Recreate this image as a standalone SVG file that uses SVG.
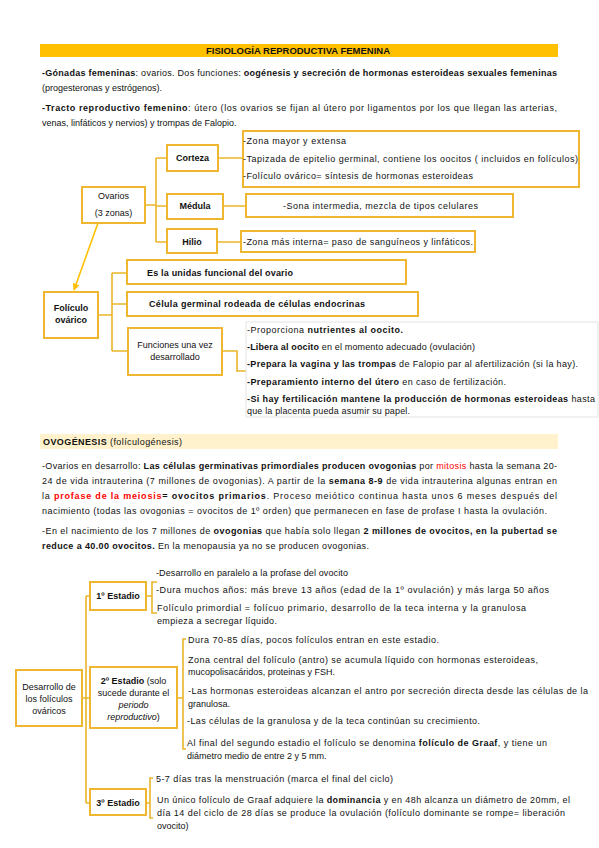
<svg xmlns="http://www.w3.org/2000/svg" width="599" height="848" viewBox="0 0 599 848">
<style>
text{font-family:"Liberation Sans",Arial,sans-serif;font-size:9px;fill:#111}
.b{font-weight:bold}
.i{font-style:italic}
.r{fill:#ff0000}
.c{text-anchor:middle}
.box{fill:#fff;stroke:#efb730;stroke-width:2}
.faint{fill:#fff;stroke:#e4e4e4;stroke-width:1}
.ln{fill:none;stroke:#e9b52a;stroke-width:1.6}
</style>
<defs>
<marker id="ah" viewBox="0 0 10 10" refX="9" refY="5" markerWidth="7" markerHeight="7" orient="auto-start-reverse" markerUnits="userSpaceOnUse">
<path d="M0,0 L10,5 L0,10 z" fill="#ffc000"/>
</marker>
</defs>
<rect width="599" height="848" fill="#fff"/>

<!-- Header -->
<g id="title">
<rect x="40" y="44" width="518" height="13" fill="#ffc000"/>
<text class="b c" x="298" y="54" textLength="184" lengthAdjust="spacingAndGlyphs">FISIOLOGÍA REPRODUCTIVA FEMENINA</text>
</g>
<g id="intro">
<text x="42" y="76" textLength="515" lengthAdjust="spacing"><tspan class="b">-Gónadas femeninas</tspan>: ovarios. Dos funciones: <tspan class="b">oogénesis y secreción de hormonas esteroideas sexuales femeninas</tspan></text>
<text x="42" y="91">(progesteronas y estrógenos).</text>
<text x="42" y="111" textLength="515" lengthAdjust="spacing"><tspan class="b">-Tracto reproductivo femenino</tspan>: útero (los ovarios se fijan al útero por ligamentos por los que llegan las arterias,</text>
<text x="42" y="126">venas, linfáticos y nervios) y trompas de Falopio.</text>
</g>

<!-- Connectors -->
<g id="connectors">
<path class="ln" d="M145,205 H156 M156,158 V242 M156,158 H167 M156,206 H167 M156,242 H167"/>
<path class="ln" d="M218,158 H243 M223,206 H246 M217,242 H241"/>
<path d="M98,223 L74,290" stroke="#ffc000" stroke-width="1.6" fill="none" marker-end="url(#ah)"/>
<path class="ln" d="M98,315 H112 M112,273 V351 M112,273 H127 M112,304 H127 M112,351 H128"/>
<path class="ln" d="M222,351 H237 V371 H250"/>
<path class="ln" d="M82,698 H86 M86,596 V803 M86,596 H90 M86,698 H90 M86,803 H90"/>
<path class="ln" d="M146,596 H152 M157,582 H152 V613 H157"/>
<path class="ln" d="M177,698 H183 M186,639 H183 V749 H186"/>
<path class="ln" d="M146,803 H150 M153,778 H150 V818 H153"/>
</g>

<!-- Ovarios tree -->
<g id="ovarios">
<rect class="box" x="82" y="187" width="63" height="36"/>
<text class="c" x="113.5" y="199">Ovarios</text>
<text class="c" x="113.5" y="216">(3 zonas)</text>
</g>
<g id="corteza">
<rect class="box" x="167" y="145" width="51" height="26"/>
<text class="b c" x="192.5" y="161">Corteza</text>
</g>
<g id="corteza-desc">
<rect class="box" x="243" y="131" width="336" height="56"/>
<text x="243" y="144" textLength="103" lengthAdjust="spacing">-Zona mayor y extensa</text>
<text x="243" y="161.5" textLength="335" lengthAdjust="spacing">-Tapizada de epitelio germinal, contiene los oocitos ( incluidos en folículos)</text>
<text x="243" y="179" textLength="230" lengthAdjust="spacing">-Folículo ovárico= síntesis de hormonas esteroideas</text>
</g>
<g id="medula">
<rect class="box" x="167" y="194" width="56" height="25"/>
<text class="b c" x="195" y="209">Médula</text>
</g>
<g id="medula-desc">
<rect class="box" x="246" y="194" width="267" height="23"/>
<text x="283" y="209" textLength="195" lengthAdjust="spacing">-Sona intermedia, mezcla de tipos celulares</text>
</g>
<g id="hilio">
<rect class="box" x="167" y="229" width="50" height="24"/>
<text class="b c" x="192" y="245">Hilio</text>
</g>
<g id="hilio-desc">
<rect class="box" x="241" y="231" width="234" height="21"/>
<text x="243" y="245" textLength="230" lengthAdjust="spacing">-Zona más interna= paso de sanguíneos y linfáticos.</text>
</g>

<!-- Foliculo tree -->
<g id="foliculo">
<rect class="box" x="44" y="292" width="54" height="46"/>
<text class="b c" x="71" y="311">Folículo</text>
<text class="b c" x="71" y="323">ovárico</text>
</g>
<g id="unidad">
<rect class="box" x="127" y="260" width="279" height="24"/>
<text class="b" x="147" y="276" textLength="146" lengthAdjust="spacing">Es la unidas funcional del ovario</text>
</g>
<g id="celula">
<rect class="box" x="127" y="292" width="291" height="24"/>
<text class="b" x="149" y="307" textLength="216" lengthAdjust="spacing">Célula germinal rodeada de células endocrinas</text>
</g>
<g id="funciones">
<rect class="box" x="128" y="328" width="94" height="47"/>
<text class="c" x="175" y="348">Funciones una vez</text>
<text class="c" x="175" y="360">desarrollado</text>
</g>
<g id="funciones-desc">
<rect class="faint" x="246" y="322" width="352" height="95"/>
<text x="247" y="333" textLength="156" lengthAdjust="spacing">-Proporciona <tspan class="b">nutrientes al oocito.</tspan></text>
<text x="247" y="350" textLength="228" lengthAdjust="spacing"><tspan class="b">-Libera al oocito</tspan> en el momento adecuado (ovulación)</text>
<text x="247" y="367" textLength="331" lengthAdjust="spacing"><tspan class="b">-Prepara la vagina y las trompas</tspan> de Falopio par al afertilización (si la hay).</text>
<text x="247" y="385" textLength="259" lengthAdjust="spacing"><tspan class="b">-Preparamiento interno del útero</tspan> en caso de fertilización.</text>
<text x="247" y="402" textLength="348" lengthAdjust="spacing"><tspan class="b">-Si hay fertilicación mantene la producción de hormonas esteroideas</tspan> hasta</text>
<text x="247" y="414" textLength="163" lengthAdjust="spacing">que la placenta pueda asumir su papel.</text>
</g>

<!-- Ovogenesis -->
<g id="ovogenesis">
<rect x="40" y="434" width="518" height="15" fill="#fff2cc"/>
<text x="43" y="445" textLength="139" lengthAdjust="spacing"><tspan class="b">OVOGÉNESIS</tspan> (folículogénesis)</text>
<text x="42" y="469" textLength="515" lengthAdjust="spacing">-Ovarios en desarrollo: <tspan class="b">Las células germinativas primordiales producen ovogonias</tspan> por <tspan class="r">mitosis</tspan> hasta la semana 20-</text>
<text x="42" y="484" textLength="515" lengthAdjust="spacing">24 de vida intrauterina (7 millones de ovogonias). A partir de la <tspan class="b">semana 8-9</tspan> de vida intrauterina algunas entran en</text>
<text x="42" y="499" textLength="515" lengthAdjust="spacing">la <tspan class="b r">profase de la meiosis</tspan><tspan class="b">= ovocitos primarios</tspan>. Proceso meiótico continua hasta unos 6 meses después del</text>
<text x="42" y="514" textLength="505" lengthAdjust="spacing">nacimiento (todas las ovogonias = ovocitos de 1º orden) que permanecen en fase de profase I hasta la ovulación.</text>
<text x="42" y="534" textLength="515" lengthAdjust="spacing">-En el nacimiento de los 7 millones de <tspan class="b">ovogonias</tspan> que había solo llegan <tspan class="b">2 millones de ovocitos, en la pubertad se</tspan></text>
<text x="42" y="549" textLength="327" lengthAdjust="spacing"><tspan class="b">reduce a 40.00 ovocitos.</tspan> En la menopausia ya no se producen ovogonias.</text>
</g>

<!-- Desarrollo tree -->
<g id="desarrollo">
<rect class="box" x="16" y="670" width="66" height="56"/>
<text class="c" x="49" y="690">Desarrollo de</text>
<text class="c" x="49" y="702">los folículos</text>
<text class="c" x="49" y="714">ováricos</text>
</g>
<g id="estadio1">
<rect class="box" x="90" y="582" width="56" height="28"/>
<text class="b c" x="118" y="599">1º Estadio</text>
</g>
<g id="estadio1-desc">
<text x="156" y="576" textLength="192" lengthAdjust="spacing">-Desarrollo en paralelo a la profase del ovocito</text>
<text x="156" y="593" textLength="393" lengthAdjust="spacing">-Dura muchos años: más breve 13 años (edad de la 1º ovulación) y más larga 50 años</text>
<text x="157" y="611" textLength="369" lengthAdjust="spacing">Folículo primordial = folícuo primario, desarrollo de la teca interna y la granulosa</text>
<text x="157" y="624" textLength="120" lengthAdjust="spacing">empieza a secregar líquido.</text>
</g>
<g id="estadio2">
<rect class="box" x="90" y="667" width="87" height="61"/>
<text class="c" x="133.5" y="684"><tspan class="b">2º Estadio</tspan> (solo</text>
<text class="c" x="133.5" y="696">sucede durante el</text>
<text class="c i" x="133.5" y="708">periodo</text>
<text class="c" x="133.5" y="720"><tspan class="i">reproductivo</tspan>)</text>
</g>
<g id="estadio2-desc">
<text x="188" y="643" textLength="251" lengthAdjust="spacing">Dura 70-85 días, pocos folículos entran en este estadio.</text>
<text x="188" y="663" textLength="350" lengthAdjust="spacing">Zona central del folículo (antro) se acumula líquido con hormonas esteroideas,</text>
<text x="188" y="675" textLength="147" lengthAdjust="spacing">mucopolisacáridos, proteinas y FSH.</text>
<text x="188" y="694" textLength="400" lengthAdjust="spacing">-Las hormonas esteroideas alcanzan el antro por secreción directa desde las células de la</text>
<text x="188" y="707">granulosa.</text>
<text x="187" y="724" textLength="293" lengthAdjust="spacing">-Las células de la granulosa y de la teca continúan su crecimiento.</text>
<text x="187" y="746" textLength="360" lengthAdjust="spacing">Al final del segundo estadio el folículo se denomina <tspan class="b">folículo de Graaf</tspan>, y tiene un</text>
<text x="187" y="759">diámetro medio de entre 2 y 5 mm.</text>
</g>
<g id="estadio3">
<rect class="box" x="90" y="789" width="56" height="26"/>
<text class="b c" x="118" y="806">3º Estadio</text>
</g>
<g id="estadio3-desc">
<text x="156" y="782" textLength="237" lengthAdjust="spacing">5-7 días tras la menstruación (marca el final del ciclo)</text>
<text x="157" y="803" textLength="413" lengthAdjust="spacing">Un único folículo de Graaf adquiere la <tspan class="b">dominancia</tspan> y en 48h alcanza un diámetro de 20mm, el</text>
<text x="157" y="816" textLength="408" lengthAdjust="spacing">día 14 del ciclo de 28 días se produce la ovulación (folículo dominante se rompe= liberación</text>
<text x="157" y="829">ovocito)</text>
</g>
</svg>
